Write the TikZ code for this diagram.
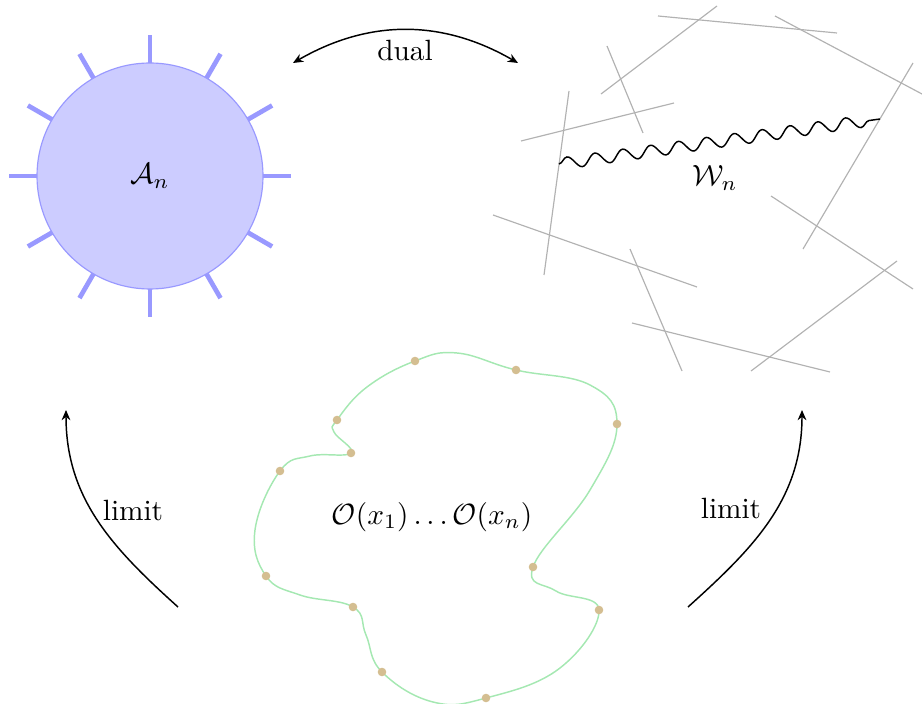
\documentclass[tikz,border=0pt]{standalone}
\usetikzlibrary{arrows.meta,decorations.pathmorphing,calc}
\definecolor{discfill}{RGB}{204,204,255}
\definecolor{discline}{RGB}{153,153,255}
\definecolor{blobline}{RGB}{165,232,178}
\definecolor{blobdot}{RGB}{212,190,145}

\tikzset{
  leg/.style={discline, line width=1.6pt},
  wire/.style={gray!60, line width=0.4pt},
  flow/.style={-{Stealth[length=3.5pt,width=3pt]}, line width=0.5pt},
  twoway/.style={{Stealth[length=3.5pt,width=3pt]}-{Stealth[length=3.5pt,width=3pt]}, line width=0.5pt},
  wavy/.style={decorate, decoration={snake, segment length=9.6pt, amplitude=2pt}, line width=0.5pt},
}

\begin{document}
\begin{tikzpicture}[x=0.012cm, y=0.012cm]
    \useasboundingbox (0,0) rectangle (922,703);

    % disc with legs
    \coordinate (ac) at (150,527);
    \foreach \a in {0,30,...,330}
      \draw[leg] ($(ac)+(\a:110)$) -- ($(ac)+(\a:141)$);
    \draw[fill=discfill, draw=discline, line width=0.4pt] (ac) circle (113);
    \node (an) at (ac) {$\mathcal{A}_n$};

    % random lines
    \draw[wire] (658,687) -- (837,670);
    \draw[wire] (717,697) -- (601,609);
    \draw[wire] (775,687) -- (922,609);
    \draw[wire] (607,657) -- (643,570);
    \draw[wire] (674,600) -- (521,562);
    \draw[wire] (569,612) -- (544,428);
    \draw[wire] (913,640) -- (803,454);
    \draw[wire] (493,488) -- (697,416);
    \draw[wire] (771,507) -- (913,414);
    \draw[wire] (630,454) -- (682,332);
    \draw[wire] (897,442) -- (751,332);
    \draw[wire] (632,380) -- (830,331);

    \coordinate (ws) at (559,539);
    \coordinate (we) at (880,584);
    \draw[wavy] (ws) -- (we);
    \node (wn) at (715,525) {$\mathcal{W}_n$};

    % dual arrow
    \coordinate (dl) at (293,640);
    \coordinate (dr) at (518,640);
    \draw[twoway] (dl) to[bend left=30] (dr);
    \node (dual) at (405,652) {dual};

    % blob of operators
    \draw[blobline, line width=0.5pt] plot[smooth cycle, tension=0.7] coordinates {
      (415,342) (457,350) (516,333) (590,318) (617,279) (590,213)
      (533,136) (556,112) (599,93) (560,35) (486,5) (433,1)
      (382,31) (366,68) (353,96) (300,108) (266,127) (255,173)
      (280,232) (310,247) (351,250) (334,271) (337,283) (367,316)};
    \foreach \p in {(415,342),(516,333),(617,279),(533,136),(599,93),(486,5),
                    (382,31),(353,96),(266,127),(280,232),(351,250),(337,283)}
      \fill[blobdot] \p circle (4.3);
    \node (ops) at (432,186) {$\mathcal{O}(x_1)\ldots\mathcal{O}(x_n)$};

    % limits
    \coordinate (ll0) at (178,96);
    \coordinate (ll1) at (66,293);
    \draw[flow] (ll0) to[out=138, in=-90] (ll1);
    \node (liml) at (133,193) {limit};

    \coordinate (lr0) at (688,96);
    \coordinate (lr1) at (802,293);
    \draw[flow] (lr0) to[out=42, in=-90] (lr1);
    \node (limr) at (731,195) {limit};
\end{tikzpicture}
\end{document}
